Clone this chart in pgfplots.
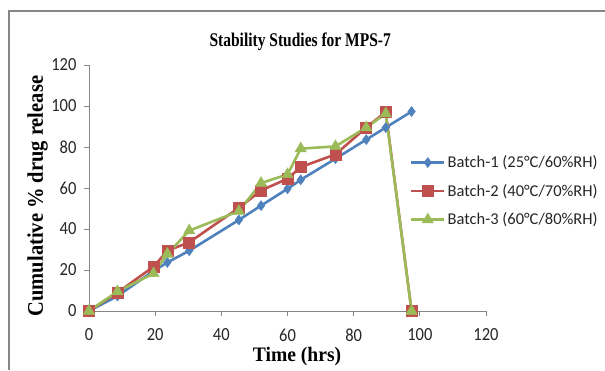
\documentclass[border=0pt]{standalone}
\usepackage{pgfplots}
\pgfplotsset{compat=1.18}
\usepackage{fontspec}
\setmainfont{Liberation Serif}
\newfontfamily\calibri{Carlito}
\definecolor{exblue}{HTML}{4F81BD}
\definecolor{exred}{HTML}{C0504D}
\definecolor{exgreen}{HTML}{9BBB59}
\definecolor{axgray}{HTML}{868686}
\begin{document}
\begin{tikzpicture}[x=1pt,y=1pt]
\useasboundingbox (0,0) rectangle (605,370);
\draw[axgray,line width=1.2pt] (9,0) -- (9,359) -- (606,359);
\begin{axis}[
  at={(89pt,59pt)}, anchor=south west,
  scale only axis, width=397pt, height=246pt,
  xmin=0, xmax=120, ymin=0, ymax=120,
  xtick={0,20,...,120}, ytick={0,20,...,120},
  axis x line=bottom, axis y line=left,
  axis line style={-,axgray,line width=0.8pt},
  tick style={axgray,line width=0.8pt},
  tick align=outside, major tick length=5pt,
  clip=false,
  ticklabel style={font=\calibri\fontsize{16.5}{18}\selectfont, text=black!85, yscale=1.12},
  /pgf/number format/assume math mode=true,
  xticklabel style={yshift=-8pt},
  yticklabel style={xshift=-4pt},
  title={Stability Studies for MPS-7},
  title style={font=\bfseries\fontsize{15.5}{18}\selectfont, at={(axis description cs:0.532,1)}, anchor=base, yshift=12pt, yscale=1.25},
  xlabel={Time (hrs)},
  xlabel style={font=\bfseries\fontsize{19.6}{22}\selectfont, at={(axis description cs:0.524,0)}, anchor=base, yshift=-50pt, yscale=1.05},
  ylabel={Cumulative \% drug release},
  ylabel style={font=\bfseries\fontsize{20.5}{23}\selectfont, at={(axis description cs:-0.116,0.467)}, anchor=base, yscale=1.09},
  legend style={at={(axis description cs:0.808,0.64)}, anchor=north west, draw=none, fill=none,
    font=\calibri\fontsize{16.5}{18}\selectfont, text=black!85, row sep=11pt, inner sep=0pt,
    /tikz/every even column/.style={column sep=3pt}},
  legend cell align=left,
  legend image code/.code={\draw[mark repeat=2,mark phase=2] plot coordinates {(0pt,0pt)(16.5pt,0pt)(33pt,0pt)};},
]
\addplot[exblue, line width=2.6pt, mark=diamond*, mark size=5pt, mark options={solid,fill=exblue,line width=0.5pt}]
 coordinates {(0,0)(8.6,7.3)(19.5,19.5)(23.7,23.7)(30.3,29.4)(45.3,44.4)(52,51.4)(60,59.6)(64,64)(74.5,74.3)(83.8,83.6)(89.7,89.5)(97.5,97.3)};
\addlegendentry{Batch-1 (25°C/60\%RH)}
\addplot[exred, line width=2.6pt, mark=square*, mark size=5.5pt, mark options={solid,fill=exred,line width=0.5pt}]
 coordinates {(0,0)(8.6,9)(19.5,21.6)(23.7,29.4)(30.3,33.5)(45.3,50.3)(52,58.8)(60,64.5)(64,70.2)(74.5,76.4)(83.8,89.5)(89.7,97.1)(97.5,0)};
\addlegendentry{Batch-2 (40°C/70\%RH)}
\addplot[exgreen, line width=2.6pt, mark=triangle*, mark size=6.5pt, mark options={solid,fill=exgreen,line width=0.5pt}]
 coordinates {(0,0)(8.6,9.5)(19.5,18.3)(23.7,27.8)(30.3,39.2)(45.3,48.7)(52,62.4)(60,66.6)(64,79.2)(74.5,80.3)(83.8,89.5)(89.7,96.3)(97.5,0)};
\addlegendentry{Batch-3 (60°C/80\%RH)}
\end{axis}
\end{tikzpicture}
\end{document}
